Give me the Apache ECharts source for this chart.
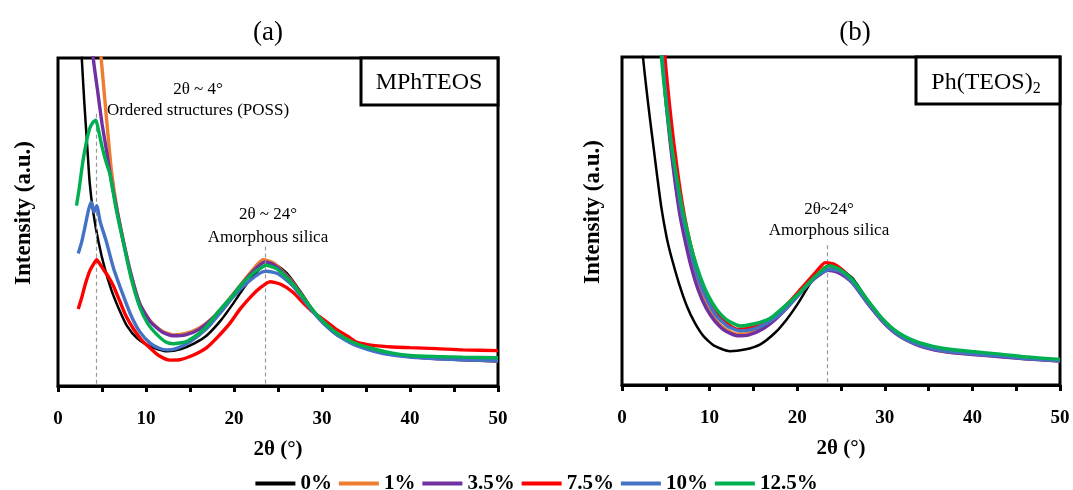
<!DOCTYPE html>
<html>
<head>
<meta charset="utf-8">
<script src="https://cdn.jsdelivr.net/npm/echarts@6/dist/echarts.min.js"></script>
<style>
  html, body { margin: 0; padding: 0; background: #fff; }
  #chart { width: 1073px; height: 490px; }
</style>
</head>
<body>
<div id="chart"></div>
<script>
// XRD patterns, intensity in arbitrary units (0..100 of the frame height)
var names = ['0%', '1%', '3.5%', '7.5%', '10%', '12.5%'];
var colors = ['#000000', '#ED7D31', '#7030A0', '#FF0000', '#4472C4', '#00B050'];
var xTicks = [0, 10, 20, 30, 40, 50];

// panel (a) MPhTEOS
var a0 = [[2.5,110],[2.7,100],[3.0,86],[3.3,74],[3.6,62],[4.0,53],[4.6,44],[5.3,36],[6.1,29],[7.0,23],[7.8,18.5],[9.0,14.5],[10.5,12],[12.4,10.6],[14,11.3],[15.5,13],[16.9,15.4],[18.5,20],[20,25.5],[21,29.5],[22,33],[23,35.8],[24.2,37.5],[25,36.6],[26,34.4],[26.7,32],[28,27],[29,23],[30.1,19.4],[31.5,16],[33,13.5],[34,12.3],[36,10.8],[38,9.8],[40,9.2],[43,8.7],[46,8.4],[50,8.1]];
var a1 = [[4.6,110],[4.9,100],[5.3,88],[5.7,76],[6.1,65],[6.7,54],[7.4,44.5],[8.3,34],[9.3,25],[10.5,19.8],[11.8,16.8],[13.1,15.6],[14.5,16],[16,17.6],[17.5,20.6],[19,25],[20.5,30],[22,35],[23.3,38.5],[24.5,37.5],[25.5,35],[26.7,31.5],[28,26.5],[29,23],[30.1,19.5],[31.5,16.2],[33,13.8],[34,12.6],[36,11],[38,9.8],[40,9],[43,8.4],[46,8],[50,7.6]];
var a35 = [[3.7,110],[4.0,100],[4.5,90],[5.0,80],[5.5,72],[5.9,65],[6.6,55],[7.4,44.5],[8.3,34],[9.3,25],[10.5,19.6],[11.8,16.5],[13.1,15.3],[14.5,15.6],[16,17.2],[17.5,20.5],[19,24.8],[20.5,29.8],[22,34.5],[23.5,37.8],[24.5,37],[25.5,34.8],[26.7,31.2],[28,26.3],[29,22.8],[30.1,19.4],[31.5,16.1],[33,13.7],[34,12.5],[36,10.9],[38,9.7],[40,9],[43,8.4],[46,8],[50,7.6]];
var a75 = [[2.3,23.5],[2.7,27],[3.1,31],[3.6,35],[4.0,37],[4.4,38.5],[4.8,37],[5.3,35],[5.8,33],[6.3,30.5],[7.0,26],[7.7,21.5],[8.6,17.3],[9.5,14],[10.5,11.5],[11.5,9.2],[12.7,7.9],[13.8,8],[15,9],[16,10.2],[16.9,11.7],[18,14.5],[19.5,19],[20.7,23.5],[22,27.5],[23,30],[24.1,31.8],[25.3,31],[26.7,28.6],[28,25],[29,22.5],[30.1,20.4],[31.5,17.5],[33,15],[34,13.3],[36,12.3],[38,11.9],[40,11.7],[43,11.4],[46,11],[50,10.8]];
var a10 = [[2.3,40.4],[2.7,44],[3.1,49],[3.5,54],[3.8,56],[4.1,53],[4.4,55],[4.8,50],[5.5,44],[6.3,36],[7.4,27.7],[8.3,21.5],[9.3,16.5],[10.5,13],[11.5,11.5],[12.4,11],[13.5,11.5],[15,13.5],[16.9,17.5],[18.5,22.5],[20,27.5],[21.5,31.5],[23,34.5],[23.7,35],[25,34.2],[26.7,30.5],[28,26],[29,22.5],[30.1,19.3],[31.5,16],[33,13.5],[34,12.2],[36,10.5],[38,9.4],[40,8.8],[43,8.3],[46,8],[50,7.7]];
var a125 = [[2.1,55],[2.4,60],[2.8,68],[3.2,74],[3.6,78.5],[4.0,80.5],[4.3,81],[4.6,78],[5.0,73],[5.5,68],[5.9,64.6],[6.6,54],[7.4,44],[8.3,33],[9.3,24],[10.2,19],[11.2,15.8],[12.2,13.5],[13.1,12.9],[14.5,13.5],[16,16],[16.9,18.2],[18.5,23.5],[20,28],[20.7,30.5],[22,34],[23.7,36.8],[25,35.5],[26.7,31],[28,26.5],[29,23],[30.1,19.8],[31.5,16.5],[33,14],[34,12.8],[36,11.2],[38,10],[40,9.3],[43,9],[46,8.8],[50,8.6]];

// panel (b) Ph(TEOS)2
var b0 = [[2.2,110],[2.4,100],[2.8,90],[3.2,81],[3.6,72.5],[4.0,64],[4.5,54],[5.1,45],[5.7,38.4],[6.5,31],[7.4,24.1],[8.3,19],[9.3,14.9],[10.5,12],[12.3,10.3],[14,10.8],[15.8,12.4],[17.5,16],[18.8,20],[20,24.5],[21.5,31],[22.8,35.3],[24.1,37],[25.2,35],[26.4,32.3],[28,26],[29.8,20],[31.5,16],[33.6,12.9],[35.5,11.2],[37.4,10.3],[40,9.5],[43.2,8.8],[46,8.1],[50,7.3]];
var b1 = [[4.4,110],[4.6,100],[5.0,87],[5.5,75],[6.0,64],[6.6,53],[7.2,45],[7.9,37],[8.7,30],[9.6,24.5],[10.6,20.2],[11.8,17],[13.2,15.5],[14.5,15.8],[16,17.5],[17.5,20.5],[19,24.5],[20.5,29],[22,33.5],[23.5,36],[24.5,35.2],[25.5,33.5],[26.4,31],[28,25.3],[29.8,19.3],[31.5,15.3],[33.6,12.4],[35.5,10.9],[37.4,10],[40,9.4],[43.2,8.7],[46,8],[50,7.3]];
var b35 = [[4.4,110],[4.6,100],[5.0,87],[5.5,74],[6.0,63],[6.6,52],[7.2,44],[7.9,36],[8.7,29],[9.6,23.5],[10.6,19.5],[11.8,16.5],[13.2,15],[14.5,15.3],[16,17],[17.5,20],[19,24],[20.5,28.5],[22,32.5],[23.5,35],[24.5,34.5],[25.5,33],[26.4,30.8],[28,25],[29.8,19.2],[31.5,15.2],[33.6,12.3],[35.5,10.8],[37.4,10],[40,9.3],[43.2,8.6],[46,8],[50,7.3]];
var b75 = [[4.7,110],[4.9,100],[5.4,86],[5.9,74],[6.5,62],[7.1,52],[7.8,43],[8.6,35],[9.5,28],[10.5,23],[11.8,19],[13.2,17],[14.5,17.3],[16,18.6],[17.5,21],[19,25],[20.5,29.5],[22,34],[23.2,37.3],[24.2,36.8],[25.2,35],[26.4,31.5],[28,25.8],[29.8,19.6],[31.5,15.6],[33.6,12.6],[35.5,11.2],[37.4,10.2],[40,9.6],[43.2,9],[46,8.3],[50,7.5]];
var b10 = [[4.4,110],[4.6,100],[5.1,86],[5.6,74],[6.2,63],[6.8,53],[7.4,46],[8.1,38],[8.9,31],[9.8,25.5],[10.8,21],[12,18],[13.5,16.5],[15,17],[16.5,18.8],[18,21.5],[19.5,25.5],[21,30],[22.5,33.8],[23.8,35.3],[25,34.5],[26.4,31],[28,25.3],[29.8,19.4],[31.5,15.4],[33.6,12.5],[35.5,11],[37.4,10.1],[40,9.5],[43.2,8.8],[46,8.1],[50,7.4]];
var b125 = [[4.3,110],[4.5,100],[5.1,84.4],[5.6,74],[6.2,64],[6.8,55],[7.4,47.6],[8.1,40],[8.9,33.3],[9.8,27.5],[10.8,23.1],[12,19.8],[13.5,18],[15,18.6],[16.5,19.8],[17.3,21.1],[18.8,24.5],[20.3,28.2],[22,33],[23.7,36.4],[25,35],[26.4,31.8],[28,26],[29.8,20],[31.5,16],[33.6,13.2],[35.5,11.8],[37.4,10.9],[40,10.2],[43.2,9.4],[46,8.6],[50,7.8]];

// dashed guide lines [x, yTop]
var guideA = [[4.4, 83], [23.6, 42.5]];
var guideB = [[23.4, 42.6]];

var serif = "'Liberation Serif', 'DejaVu Serif', serif";
var dataA = [a0, a1, a35, a75, a10, a125];
var dataB = [b0, b1, b35, b75, b10, b125];

function guides(list) {
    return {
        silent: true,
        symbol: 'none',
        label: { show: false },
        lineStyle: { color: '#999', type: [4, 3], width: 1.2 },
        data: list.map(function (g) {
            return [{ coord: [g[0], g[1]] }, { coord: [g[0], 0] }];
        })
    };
}

var series = [];
[dataA, dataB].forEach(function (set, p) {
    set.forEach(function (d, i) {
        var s = {
            name: names[i],
            type: 'line',
            xAxisIndex: p,
            yAxisIndex: p,
            data: d,
            showSymbol: false,
            smooth: 0.2,
            clip: true,
            lineStyle: { color: colors[i], width: i === 0 ? 2.5 : 3.4 },
            itemStyle: { color: colors[i] },
            z: 2 + i
        };
        if (i === 0) s.markLine = guides(p === 0 ? guideA : guideB);
        series.push(s);
    });
});

function xAxis(idx) {
    return {
        gridIndex: idx,
        type: 'value',
        min: 0, max: 50, interval: 10,
        name: '2θ (°)',
        nameLocation: 'middle',
        nameGap: 53,
        nameTextStyle: { fontFamily: serif, fontWeight: 'bold', fontSize: 21, color: '#000' },
        axisLine: { onZero: false, lineStyle: { color: '#000', width: 3 } },
        axisTick: { inside: false, length: 6, lineStyle: { color: '#000', width: 3 } },
        minorTick: { show: true, splitNumber: 2, length: 6, lineStyle: { color: '#000', width: 3 } },
        splitLine: { show: false },
        axisLabel: { margin: 24, fontFamily: serif, fontSize: 19, fontWeight: 'bold', color: '#000',
            formatter: function (v) { return xTicks.indexOf(v) >= 0 ? String(v) : ''; } }
    };
}

function yAxis(idx, gap) {
    return {
        gridIndex: idx,
        type: 'value',
        min: 0, max: 100,
        name: 'Intensity (a.u.)',
        nameLocation: 'middle',
        nameGap: gap,
        nameTextStyle: { fontFamily: serif, fontWeight: 'bold', fontSize: 23, color: '#000', padding: [0, 0, 0, 18] },
        axisLine: { show: false },
        axisTick: { show: false },
        axisLabel: { show: false },
        splitLine: { show: false }
    };
}

function boxText(cx, cy, str, size, bold) {
    return {
        type: 'text', x: cx, y: cy, z: 10,
        style: { text: str, x: 0, y: 0, align: 'center', verticalAlign: 'middle',
            font: (bold ? 'bold ' : '') + size + 'px ' + serif, fill: '#000' }
    };
}

var chart = echarts.init(document.getElementById('chart'));
chart.setOption({
    animation: false,
    backgroundColor: '#fff',
    title: [
        { text: '(a)', left: 263, top: 14, textAlign: 'center',
          textStyle: { fontFamily: serif, fontWeight: 'normal', fontSize: 27, color: '#000' } },
        { text: '(b)', left: 850, top: 14, textAlign: 'center',
          textStyle: { fontFamily: serif, fontWeight: 'normal', fontSize: 27, color: '#000' } }
    ],
    legend: {
        data: names,
        left: 'center',
        top: 468,
        icon: 'rect',
        itemWidth: 40,
        itemHeight: 4,
        itemGap: 7,
        textStyle: { fontFamily: serif, fontWeight: 'bold', fontSize: 21, color: '#000' }
    },
    grid: [
        { left: 58, right: 575, top: 58, bottom: 104, show: true, borderColor: '#000', borderWidth: 3 },
        { left: 622, right: 13, top: 57, bottom: 105, show: true, borderColor: '#000', borderWidth: 3 }
    ],
    xAxis: [xAxis(0), xAxis(1)],
    yAxis: [yAxis(0, 22), yAxis(1, 17)],
    graphic: [
        { type: 'rect', shape: { x: 361, y: 58, width: 137, height: 47 }, z: 9,
          style: { fill: '#fff', stroke: '#000', lineWidth: 3 } },
        boxText(429, 83, 'MPhTEOS', 24, false),
        { type: 'rect', shape: { x: 916, y: 57, width: 144, height: 47 }, z: 9,
          style: { fill: '#fff', stroke: '#000', lineWidth: 3 } },
        { type: 'text', x: 986, y: 83, z: 10,
          style: { rich: { m: { font: '24px ' + serif, fill: '#000' }, s: { font: '16px ' + serif, fill: '#000', padding: [12, 0, 0, 0] } },
                   text: '{m|Ph(TEOS)}{s|2}', align: 'center', verticalAlign: 'middle' } },
        boxText(198, 90, '2θ ~ 4°', 17, false),
        boxText(198, 111, 'Ordered structures (POSS)', 17, false),
        boxText(268, 215, '2θ ~ 24°', 17, false),
        boxText(268, 238, 'Amorphous silica', 17, false),
        boxText(829, 210, '2θ~24°', 17, false),
        boxText(829, 231, 'Amorphous silica', 17, false)
    ],
    series: series
});
</script>
</body>
</html>
